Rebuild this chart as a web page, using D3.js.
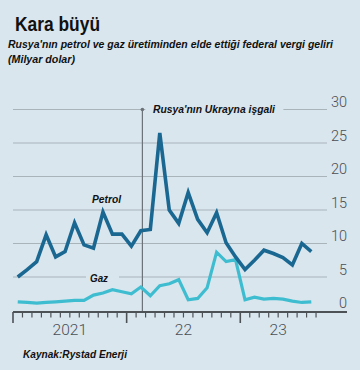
<!DOCTYPE html>
<html><head><meta charset="utf-8">
<script src="https://cdn.jsdelivr.net/npm/d3@7"></script>
<style>
html,body{margin:0;padding:0;background:#d9e6ee;}
svg{display:block;}
.t{font-family:"Liberation Sans",Arial,sans-serif;font-weight:bold;font-style:italic;fill:#111;}
.ax{font-family:Roboto,"Open Sans",sans-serif;font-weight:300;fill:#4a4f55;}
</style></head>
<body>
<script>
// ---- data ----
const months = ["2021-01","2021-02","2021-03","2021-04","2021-05","2021-06","2021-07","2021-08","2021-09","2021-10","2021-11","2021-12",
"2022-01","2022-02","2022-03","2022-04","2022-05","2022-06","2022-07","2022-08","2022-09","2022-10","2022-11","2022-12",
"2023-01","2023-02","2023-03","2023-04","2023-05","2023-06","2023-07","2023-08"];
const petrol = [5.0,6.1,7.3,11.3,8.0,8.8,13.1,9.8,9.3,14.7,11.4,11.4,
9.6,11.9,12.1,26.5,15.0,13.0,17.6,13.6,11.6,14.6,10.1,8.0,
6.1,7.5,9.0,8.5,7.9,6.8,10.0,8.8];
const gaz = [1.3,1.2,1.1,1.2,1.3,1.4,1.5,1.5,2.3,2.6,3.1,2.8,
2.5,3.5,2.2,3.7,4.0,4.6,1.6,1.8,3.4,8.7,7.3,7.6,
1.6,2.0,1.7,1.8,1.7,1.4,1.2,1.3];
const yTicks = [0,5,10,15,20,25,30];
const yearLabels = [{label:"2021", from:0, to:12},{label:"22", from:12, to:24},{label:"23", from:24, to:32}];
const invasionDate = "2022-02-24";
const invasionLabel = "Rusya'nın Ukrayna işgali";
const title = "Kara büyü";
const subtitle1 = "Rusya'nın petrol ve gaz üretiminden elde ettiği federal vergi geliri";
const subtitle2 = "(Milyar dolar)";
const source = "Kaynak:Rystad Enerji";

// ---- chart ----
const W=360,H=370, bg="#d9e6ee";
const svg=d3.select("body").append("svg").attr("width",W).attr("height",H);
svg.append("rect").attr("width",W).attr("height",H).attr("fill",bg);

const x=d3.scaleLinear().domain([0,33]).range([13,13+33*9.47]);
const y=d3.scaleLinear().domain([0,30]).range([310.5,109.5]);

// title texts
svg.append("text").attr("x",15).attr("y",31).attr("font-family","'Liberation Sans',Arial,sans-serif")
  .attr("font-weight","bold").attr("font-size",20).attr("fill","#111")
  .attr("textLength",85).attr("lengthAdjust","spacingAndGlyphs").text(title);
svg.append("text").attr("class","t").attr("x",8).attr("y",47.5).attr("font-size",10.5)
  .attr("textLength",325).attr("lengthAdjust","spacingAndGlyphs").text(subtitle1);
svg.append("text").attr("class","t").attr("x",8).attr("y",62.5).attr("font-size",10.5)
  .attr("textLength",67).attr("lengthAdjust","spacingAndGlyphs").text(subtitle2);

// gridlines
const g=svg.append("g");
g.selectAll("line.grid").data(yTicks.filter(d=>d>0)).join("line")
  .attr("x1",13).attr("x2",327).attr("y1",d=>y(d)).attr("y2",d=>y(d))
  .attr("stroke","#a9b3ba").attr("stroke-width",1);
g.selectAll("text.yl").data(yTicks).join("text").attr("class","ax")
  .attr("x",347).attr("y",d=>y(d)-2.5).attr("text-anchor","end").attr("font-size",14.5).text(d=>d);

// month index helper
function monthIndex(s){const [yy,mm,dd]=s.split("-").map(Number);
  const base=(yy-2021)*12+(mm-1); if(!dd) return base;
  const dim=new Date(yy,mm,0).getDate(); return base+(dd-1)/dim;}

// label backgrounds
const invX = x(monthIndex(invasionDate))-1.5;
svg.append("rect").attr("x",invX+3).attr("y",y(30)-6).attr("width",138).attr("height",12).attr("fill",bg);
svg.append("rect").attr("x",86).attr("y",y(5)-6).attr("width",33).attr("height",12).attr("fill",bg);

// invasion line
svg.append("line").attr("x1",invX).attr("x2",invX).attr("y1",y(30)).attr("y2",312)
  .attr("stroke","#6b7378").attr("stroke-width",1.2);
svg.append("circle").attr("cx",invX).attr("cy",y(30)).attr("r",1.8).attr("fill","#6b7378");
svg.append("text").attr("class","t").attr("x",153).attr("y",y(30)+3.5).attr("font-size",10.5)
  .attr("textLength",122).attr("lengthAdjust","spacingAndGlyphs").text(invasionLabel);

// axis
svg.append("line").attr("x1",13).attr("x2",347).attr("y1",312).attr("y2",312).attr("stroke","#4d5257").attr("stroke-width",2);
const tickIdx=d3.range(0,33);
svg.selectAll("line.tk").data(tickIdx).join("line")
  .attr("x1",d=>x(d)).attr("x2",d=>x(d)).attr("y1",312).attr("y2",d=>d%12===0?323:317.5)
  .attr("stroke","#4d5257").attr("stroke-width",d=>d%12===0?1.6:1.2);
svg.selectAll("text.xl").data(yearLabels).join("text").attr("class","ax")
  .attr("x",d=>x((d.from+d.to)/2)).attr("y",335).attr("text-anchor","middle").attr("font-size",15.5).text(d=>d.label);

// lines
const line=d3.line().x((d,i)=>x(i+0.5)).y(d=>y(d));
svg.append("path").datum(gaz).attr("d",line).attr("fill","none").attr("stroke","#3fbdd0")
  .attr("stroke-width",3.2).attr("stroke-linejoin","miter");
svg.append("path").datum(petrol).attr("d",line).attr("fill","none").attr("stroke","#1a6892")
  .attr("stroke-width",3.6).attr("stroke-linejoin","miter");

// series labels
svg.append("text").attr("class","t").attr("x",92).attr("y",203).attr("font-size",11)
  .attr("textLength",29).attr("lengthAdjust","spacingAndGlyphs").text("Petrol");
svg.append("text").attr("class","t").attr("x",90).attr("y",282).attr("font-size",11)
  .attr("textLength",18).attr("lengthAdjust","spacingAndGlyphs").text("Gaz");

// source
svg.append("text").attr("class","t").attr("x",23).attr("y",358).attr("font-size",10.5)
  .attr("textLength",104).attr("lengthAdjust","spacingAndGlyphs").text(source);
</script>
</body></html>
